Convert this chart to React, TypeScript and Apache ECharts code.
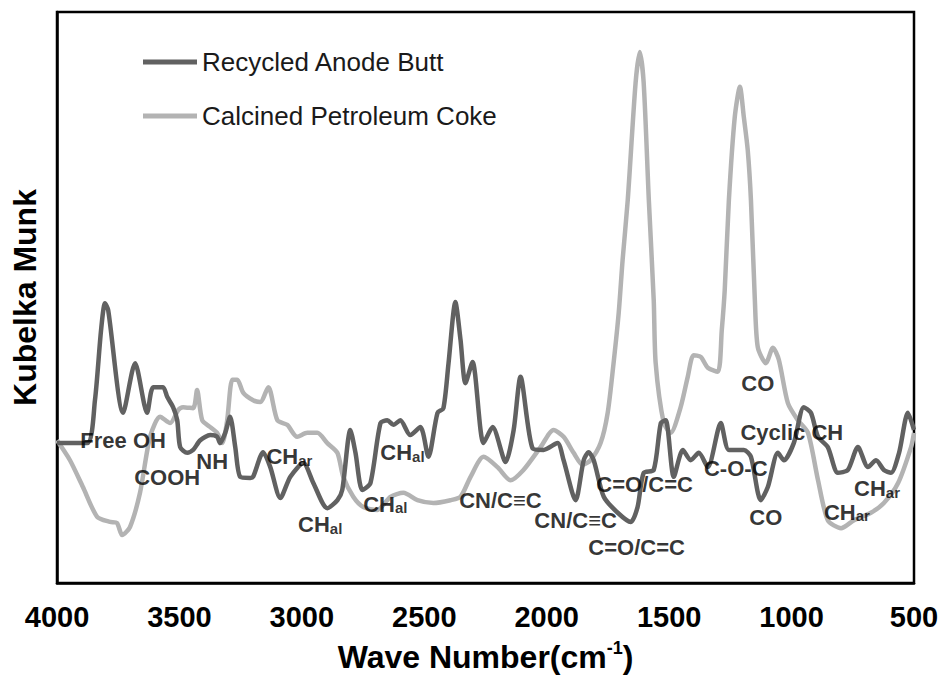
import React, { useEffect, useRef } from "react";
import * as echarts from "echarts";

const seriesNames = ["Recycled Anode Butt", "Calcined Petroleum Coke"];

const rabWave = [4000,3877,3845,3820,3804,3791,3730,3681,3632,3607,3567,3550,3526,3509,3497,3468,3444,3415,3374,3346,3334,3313,3293,3272,3252,3211,3199,3158,3129,3088,3047,2994,2953,2896,2855,2835,2802,2781,2753,2720,2679,2651,2626,2598,2557,2516,2483,2446,2422,2401,2373,2352,2332,2303,2258,2221,2168,2135,2107,2058,2013,1956,1931,1882,1849,1829,1808,1767,1710,1657,1629,1604,1563,1534,1514,1481,1444,1412,1379,1342,1289,1256,1195,1166,1126,1097,1056,1031,991,950,921,892,852,811,770,729,688,655,623,594,561,525,500];
const rabKM = [24.5,24.5,32.0,44.3,49.0,47.8,29.8,38.5,29.8,34.3,34.3,32.6,30.8,28.5,23.8,22.8,23.3,25.0,25.9,25.6,24.5,26.3,29.1,23.8,18.6,18.4,18.6,22.9,20.3,14.9,18.6,21.0,17.5,13.1,14.5,16.3,26.8,22.8,16.3,17.5,28.0,28.5,27.7,28.5,25.9,27.3,22.1,29.8,30.6,38.5,49.2,42.6,35.0,38.7,24.5,27.3,21.2,26.8,36.1,23.6,23.3,24.5,21.5,14.5,21.5,22.9,21.5,15.1,12.3,10.7,13.3,19.3,19.8,28.0,28.5,18.6,23.3,21.5,22.8,20.3,28.0,23.3,23.3,22.1,14.5,16.8,22.8,21.5,24.5,30.8,29.8,25.6,23.8,19.3,19.8,23.8,20.3,21.5,19.8,19.3,22.8,29.8,26.8];

const cpcWave = [4000,3947,3894,3836,3783,3755,3734,3702,3661,3620,3579,3538,3505,3485,3444,3428,3407,3374,3346,3325,3305,3284,3264,3239,3199,3170,3137,3100,3060,3019,2978,2937,2896,2855,2831,2790,2749,2692,2638,2585,2528,2463,2393,2352,2311,2258,2201,2148,2095,2025,1972,1931,1890,1853,1821,1780,1751,1727,1706,1690,1669,1637,1620,1604,1583,1563,1555,1522,1494,1453,1424,1400,1371,1342,1301,1285,1273,1256,1232,1211,1195,1179,1166,1150,1138,1105,1076,1052,1015,974,933,892,852,798,745,676,623,565,512,500];
const cpcKM = [25.0,21.5,16.8,11.6,10.7,10.5,8.4,9.8,15.8,25.6,29.1,28.0,30.3,30.8,30.6,33.8,28.5,27.3,26.3,24.5,28.5,35.6,35.6,33.3,32.0,31.7,34.3,28.5,27.7,25.6,26.3,26.3,24.5,22.8,18.6,15.1,13.3,12.8,15.1,15.8,14.5,14.0,14.5,15.1,18.6,22.1,20.3,18.0,19.8,23.8,26.8,25.6,22.8,20.7,21.5,24.5,29.8,38.5,47.3,56.6,67.1,87.6,93.0,87.6,67.1,49.6,38.5,28.0,26.3,30.8,36.1,39.9,39.6,37.7,37.0,44.3,51.3,67.1,81.6,86.9,81.6,75.8,67.1,49.6,41.3,38.5,41.2,39.1,31.5,28.5,26.3,18.0,11.0,9.6,11.0,12.3,14.0,17.5,23.8,26.3];

// annotation labels: main text, subscript, position (wavenumber, KM)
const annoMain = ["Free OH","COOH","NH","CH","CH","CH","CH","CN/C\u2261C","CN/C\u2261C","C=O/C=C","C=O/C=C","CO","Cyclic CH","C-O-C","CO","CH","CH"];
const annoSub = ["","","","ar","al","al","al","","","","","","","","","ar","ar"];
const annoWave = [3730,3550,3366,3051,2925,2589,2659,2189,1882,1600,1633,1138,999,1228,1105,774,651];
const annoKM = [24.9,18.4,21.2,22.1,10.2,22.8,13.8,14.5,11.0,17.3,6.3,34.9,26.4,20.0,11.4,12.4,16.5];

const xTicks = { min: 500, max: 4000, interval: 500 };

const FONT = "'Liberation Sans', Arial, Helvetica, sans-serif";

function zip(a: number[], b: number[]) {
  const n = Math.min(a.length, b.length);
  const out: number[][] = [];
  for (let i = 0; i < n; i++) out.push([a[i], b[i]]);
  return out;
}

export default function App() {
  const ref = useRef<HTMLDivElement>(null);
  useEffect(() => {
    if (!ref.current) return;
    const chart = echarts.init(ref.current, undefined, { renderer: "svg" });
    const annoData = annoMain.map((t, i) => ({
      value: [annoWave[i], annoKM[i]],
      label: {
        formatter: annoSub[i] ? `{m|${t}}{s|${annoSub[i]}}` : `{m|${t}}`,
      },
    }));
    chart.setOption({
      animation: false,
      backgroundColor: "#ffffff",
      grid: {
        left: 57,
        right: 30,
        top: 12,
        bottom: 96,
        show: true,
        borderColor: "#000",
        borderWidth: 2.5,
        backgroundColor: "transparent",
      },
      legend: {
        orient: "vertical",
        left: 143,
        top: 49,
        padding: 0,
        icon: "rect",
        itemWidth: 54,
        itemHeight: 5,
        itemGap: 28,
        data: seriesNames,
        selectedMode: false,
        textStyle: { fontFamily: FONT, fontSize: 26, lineHeight: 26, color: "#1a1a1a" },
      },
      xAxis: {
        type: "value",
        inverse: true,
        min: xTicks.min,
        max: xTicks.max,
        interval: xTicks.interval,
        axisLine: { show: true, lineStyle: { color: "#000", width: 2.5 } },
        axisTick: { show: false },
        splitLine: { show: false },
        axisLabel: {
          margin: 19,
          fontFamily: FONT,
          fontSize: 29,
          fontWeight: "bold",
          color: "#000",
          formatter: (v: number) => String(v),
        },
        name: "Wave Number(cm{sup|-1})",
        nameLocation: "middle",
        nameGap: 56,
        nameTextStyle: {
          fontFamily: FONT,
          fontSize: 32,
          fontWeight: "bold",
          color: "#000",
          lineHeight: 35,
          rich: {
            sup: {
              fontFamily: FONT,
              fontSize: 18,
              fontWeight: "bold",
              color: "#000",
              verticalAlign: "top",
              lineHeight: 20,
            },
          },
        },
      },
      yAxis: {
        type: "value",
        min: 0,
        max: 100,
        axisLine: { show: true, lineStyle: { color: "#000", width: 2.5 } },
        axisTick: { show: false },
        axisLabel: { show: false },
        splitLine: { show: false },
        name: "Kubelka Munk",
        nameLocation: "middle",
        nameRotate: 90,
        nameGap: 16,
        nameTextStyle: {
          fontFamily: FONT,
          fontSize: 32,
          fontWeight: "bold",
          color: "#000",
          lineHeight: 32,
        },
      },
      series: [
        {
          name: seriesNames[0],
          type: "line",
          data: zip(rabWave, rabKM),
          smooth: 0.25,
          showSymbol: false,
          symbol: "none",
          color: "#616161",
          lineStyle: { color: "#616161", width: 4.5 },
          z: 3,
        },
        {
          name: seriesNames[1],
          type: "line",
          data: zip(cpcWave, cpcKM),
          smooth: 0.25,
          showSymbol: false,
          symbol: "none",
          color: "#b3b3b3",
          lineStyle: { color: "#b3b3b3", width: 4.5 },
          z: 2,
        },
        {
          type: "scatter",
          data: annoData,
          symbolSize: 1,
          itemStyle: { color: "transparent" },
          silent: true,
          z: 5,
          label: {
            show: true,
            position: "inside",
            color: "#000",
            rich: {
              m: {
                fontFamily: FONT,
                fontSize: 22,
                fontWeight: "bold",
                color: "#000",
                lineHeight: 22,
                verticalAlign: "top",
              },
              s: {
                fontFamily: FONT,
                fontSize: 15,
                fontWeight: "bold",
                color: "#000",
                lineHeight: 15,
                padding: [11, 0, 0, 0],
                verticalAlign: "bottom",
              },
            },
          },
        },
      ],
    });
    return () => chart.dispose();
  }, []);
  return (
    <div
      ref={ref}
      style={{ position: "fixed", left: 0, top: 0, width: 944, height: 679 }}
    />
  );
}
